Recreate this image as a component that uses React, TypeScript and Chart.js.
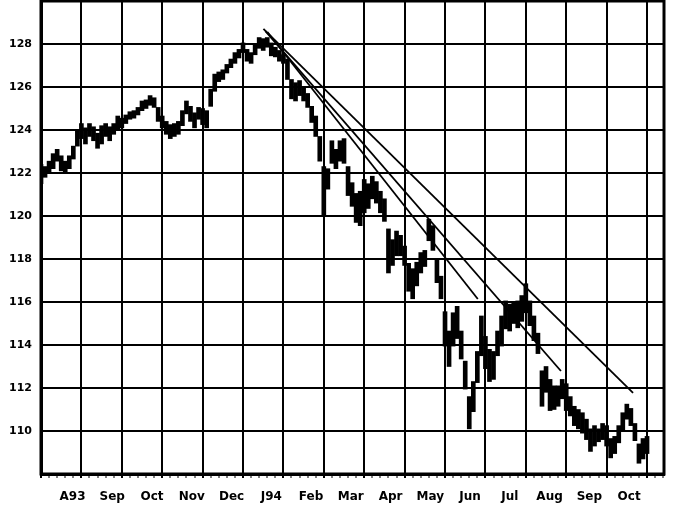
import { useEffect, useRef } from 'react';
import { Chart, registerables } from 'chart.js';

Chart.register(...registerables);

// Month labels (Aug 1993 .. Oct 1994)
const monthLabels = ['A93', 'Sep', 'Oct', 'Nov', 'Dec', 'J94', 'Feb', 'Mar', 'Apr', 'May', 'Jun', 'Jul', 'Aug', 'Sep', 'Oct'];

// Price bars, sampled ~every other session (10 per month)
const highs = [
  122.4, 122.3, 122.55, 122.9, 123.1, 122.8, 122.55, 122.8, 123.25, 123.95,
  124.3, 124.1, 124.3, 124.15, 123.85, 124.2, 124.3, 124.15, 124.3, 124.65,
  124.55, 124.7, 124.85, 124.9, 125.05, 125.35, 125.4, 125.6, 125.5, 125.05,
  124.65, 124.4, 124.25, 124.3, 124.4, 124.9, 125.35, 125.1, 124.8, 125.05,
  125.0, 124.9, 125.9, 126.6, 126.7, 126.8, 127.05, 127.3, 127.6, 127.75,
  128.05, 127.75, 127.6, 127.95, 128.3, 128.25, 128.3, 128.05, 127.85, 127.7,
  127.5, 127.3, 126.35, 126.2, 126.3, 126.0, 125.7, 125.1, 124.65, 123.7,
  122.3, 122.2, 123.5, 123.1, 123.5, 123.6, 122.3, 121.55, 121.05, 121.15,
  121.7, 121.5, 121.85, 121.6, 121.15, 120.8, 119.4, 118.9, 119.3, 119.1,
  118.6, 117.8, 117.55, 117.85, 118.3, 118.4, 119.85, 119.55, 118.0, 117.2,
  115.55, 114.65, 115.5, 115.8, 114.65, 113.25, 111.6, 112.3, 113.7, 115.35,
  114.4, 113.8, 113.7, 114.65, 115.35, 116.05, 115.9, 115.95, 116.05, 116.3,
  116.85, 116.05, 115.35, 114.55, 112.8, 113.0, 112.4, 112.1, 112.1, 112.4,
  112.2, 111.6, 111.15, 111.0, 110.85, 110.55, 110.1, 110.25, 110.1, 110.35,
  110.25, 109.65, 109.75, 110.25, 110.85, 111.25, 111.05, 110.35, 109.4, 109.65,
  109.75,
];
const lows = [
  121.5, 121.8, 122.0, 122.2, 122.55, 122.1, 122.0, 122.2, 122.65, 123.25,
  123.6, 123.35, 123.7, 123.5, 123.15, 123.35, 123.7, 123.5, 123.8, 124.05,
  124.1, 124.3, 124.5, 124.55, 124.7, 124.9, 125.0, 125.15, 125.05, 124.4,
  124.1, 123.8, 123.6, 123.7, 123.8, 124.2, 124.75, 124.4, 124.1, 124.5,
  124.25, 124.1, 125.1, 125.8, 126.25, 126.35, 126.65, 126.9, 127.1, 127.35,
  127.6, 127.2, 127.1, 127.5, 127.8, 127.7, 127.85, 127.45, 127.4, 127.2,
  127.1, 126.35, 125.45, 125.35, 125.6, 125.35, 125.05, 124.35, 123.7, 122.55,
  120.0, 121.25, 122.45, 122.2, 122.55, 122.45, 120.95, 120.45, 119.7, 119.55,
  120.15, 120.35, 120.8, 120.6, 120.15, 119.75, 117.35, 117.7, 118.15, 118.15,
  117.7, 116.5, 116.15, 116.75, 117.35, 117.65, 118.85, 118.4, 116.9, 116.15,
  113.95, 113.0, 113.95, 114.3, 113.35, 111.95, 110.1, 110.9, 112.25, 113.5,
  112.9, 112.3, 112.4, 113.5, 113.95, 114.75, 114.65, 115.0, 114.8, 115.1,
  115.5, 114.9, 114.2, 113.6, 111.15, 111.8, 110.95, 111.0, 111.15, 111.5,
  110.95, 110.7, 110.25, 110.1, 109.9, 109.6, 109.05, 109.3, 109.5, 109.6,
  109.3, 108.75, 108.95, 109.45, 110.0, 110.55, 110.25, 109.55, 108.5, 108.7,
  108.95,
];
const BARS_PER_MONTH = 10;

// Trend lines (x in months since Aug 1993)
const trendStartX = [5.505, 5.554, 5.604];
const trendStartY = [128.7, 128.6, 128.56];
const trendEndX = [14.654, 12.869, 10.811];
const trendEndY = [111.77, 112.79, 116.14];

const Y_MIN = 108;
const Y_MAX = 130;
const X_MAX = 15.42;

const yFont = { family: 'DejaVu Sans', weight: 'bold' as const, size: 11 };
const xFont = { family: 'DejaVu Sans', weight: 'bold' as const, size: 12 };

const isMajor = (v: number) => Math.abs(v - Math.round(v)) < 1e-6;

export default function App() {
  const ref = useRef<HTMLCanvasElement | null>(null);

  useEffect(() => {
    if (!ref.current) return;
    const frame = {
      id: 'frame',
      beforeDraw(chart: any) {
        const c = chart.ctx;
        c.save();
        c.fillStyle = '#fff';
        c.fillRect(0, 0, chart.width, chart.height);
        c.restore();
      },
      afterDraw(chart: any) {
        const { left, top, right, bottom } = chart.chartArea;
        const c = chart.ctx;
        c.save();
        c.strokeStyle = '#000';
        c.lineWidth = 3;
        c.strokeRect(left, top, right - left, bottom - top);
        c.restore();
      },
    };

    const barData = highs.map((h, i) => ({ x: i / BARS_PER_MONTH, y: [lows[i], h] }));
    const trendSets = trendStartX.map((sx, k) => ({
      type: 'line' as const,
      data: [
        { x: sx, y: trendStartY[k] },
        { x: trendEndX[k], y: trendEndY[k] },
      ],
      borderColor: '#000',
      borderWidth: 1.8,
      pointRadius: 0,
      fill: false,
      tension: 0,
      xAxisID: 'x',
      yAxisID: 'y',
    }));

    const chart = new Chart(ref.current, {
      type: 'bar',
      data: {
        datasets: [
          {
            type: 'bar',
            data: barData as any,
            backgroundColor: '#000',
            borderWidth: 0,
            barThickness: 4,
            grouped: false,
            xAxisID: 'x',
            yAxisID: 'y',
          } as any,
          ...(trendSets as any[]),
        ],
      },
      options: {
        responsive: false,
        animation: false,
        layout: { padding: { left: 0, right: 17, top: 1, bottom: 0 } },
        plugins: { legend: { display: false }, tooltip: { enabled: false } },
        scales: {
          x: {
            type: 'linear',
            position: 'bottom',
            weight: 0,
            offset: false,
            min: 0,
            max: X_MAX,
            afterBuildTicks: (s: any) => {
              const t = [];
              for (let k = 0; k <= 77; k++) t.push({ value: k / 5 });
              s.ticks = t;
            },
            ticks: { display: false },
            grid: {
              offset: false,
              color: '#000',
              lineWidth: (ctx: any) => (ctx.tick && isMajor(ctx.tick.value) ? 2 : 0),
              tickLength: 4,
              tickWidth: (ctx: any) => (ctx.tick && isMajor(ctx.tick.value) ? 2 : 1),
              tickColor: '#000',
            },
            border: { display: true, color: '#000', width: 3 },
            afterFit: (s: any) => {
              s.height = 6;
              s.paddingLeft = 0;
              s.paddingRight = 0;
            },
          },
          xl: {
            type: 'linear',
            position: 'bottom',
            weight: 1,
            offset: false,
            min: 0,
            max: X_MAX,
            afterBuildTicks: (s: any) => {
              s.ticks = monthLabels.map((_, i) => ({ value: 0.78 + i * 0.984 }));
            },
            ticks: {
              callback: (_v: any, i: number) => monthLabels[i],
              font: xFont,
              color: '#000',
              padding: 10,
              autoSkip: false,
              maxRotation: 0,
            },
            grid: { display: false, drawTicks: false, offset: false },
            border: { display: false },
            afterFit: (s: any) => {
              s.height = 31;
              s.paddingLeft = 0;
              s.paddingRight = 0;
            },
          },
          y: {
            type: 'linear',
            min: Y_MIN,
            max: Y_MAX,
            ticks: {
              stepSize: 2,
              callback: (v: any) => (v === Y_MIN || v === Y_MAX ? '' : String(v)),
              font: yFont,
              color: '#000',
              padding: 9,
            },
            grid: { color: '#000', lineWidth: 2, drawTicks: false },
            border: { display: true, color: '#000', width: 3 },
            afterFit: (s: any) => {
              s.width = 41;
              s.paddingTop = 0;
              s.paddingBottom = 0;
            },
          },
        },
      } as any,
      plugins: [frame],
    });
    return () => chart.destroy();
  }, []);

  return (
    <div style={{ position: 'absolute', left: 0, top: 0, width: 681, height: 511, background: '#fff' }}>
      <canvas ref={ref} width={681} height={511} style={{ display: 'block' }} />
    </div>
  );
}
